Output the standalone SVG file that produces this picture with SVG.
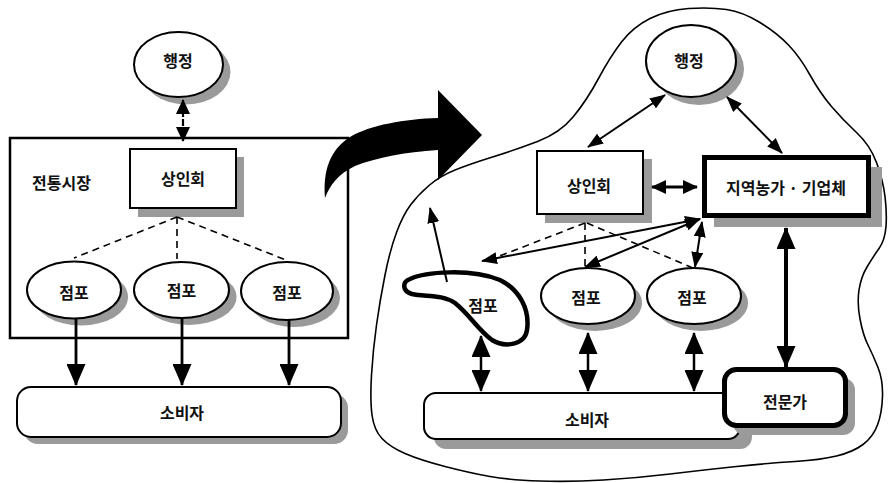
<svg xmlns="http://www.w3.org/2000/svg" width="890" height="483" viewBox="0 0 890 483">
<defs>
<style>
.t{font-family:"Noto Sans CJK KR","Noto Sans",sans-serif;font-weight:700;font-size:16px;fill:#111;text-anchor:middle;dominant-baseline:central}
.sh{fill:#9a9a9a;stroke:none}
.nd{fill:#fff;stroke:#000;stroke-width:2}
.thick{fill:#fff;stroke:#000;stroke-width:5}
.ln{stroke:#000;fill:none}
.dash{stroke:#000;stroke-width:1.6;stroke-dasharray:7 5;fill:none}
</style>
<marker id="hB" viewBox="0 0 22 19" refX="21" refY="9.5" markerWidth="22" markerHeight="19" markerUnits="userSpaceOnUse" orient="auto-start-reverse"><path d="M0,0 L22,9.5 L0,19 Z" fill="#000"/></marker>
<marker id="hM" viewBox="0 0 15 14" refX="14" refY="7" markerWidth="15" markerHeight="14" markerUnits="userSpaceOnUse" orient="auto-start-reverse"><path d="M0,0 L15,7 L0,14 Z" fill="#000"/></marker>
<marker id="hS" viewBox="0 0 16 12" refX="15" refY="6" markerWidth="16" markerHeight="12" markerUnits="userSpaceOnUse" orient="auto-start-reverse"><path d="M0,0 L16,6 L0,12 Z" fill="#000"/></marker>
</defs>
<rect width="890" height="483" fill="#fff"/>

<g id="region-new">
<path class="ln" stroke-width="1.6" d="M 455,170 Q 440,176 429,185.5 Q 418,195 410.5,205 Q 403,215 396.5,232.5 Q 390,250 385,275 Q 380,300 376.5,325 Q 373,350 371.5,375 Q 370,400 372,415 Q 374,430 382,438.5 Q 390,447 405,453.5 Q 420,460 445,466.5 Q 470,473 490,476.5 Q 510,480 540,481 Q 570,482 603.5,480 Q 637,478 670,474 Q 703,470 736.5,466.5 Q 770,463 795,461.5 Q 820,460 836.5,456 Q 853,452 863,444.5 Q 873,437 877.5,425 Q 882,413 882.5,396.5 Q 883,380 878,367.5 Q 873,355 868,345 Q 863,335 860,319 Q 857,303 859,290 Q 861,277 867,267 Q 873,257 879,248.5 Q 885,240 886,226.5 Q 887,213 885,196.5 Q 883,180 876.5,162.5 Q 870,145 856.5,132.5 Q 843,120 831.5,106.5 Q 820,93 810,75 Q 800,57 788.5,45 Q 777,33 760,22.5 Q 743,12 726.5,9.5 Q 710,7 688.5,8.5 Q 667,10 650,18.5 Q 633,27 621.5,42 Q 610,57 598.5,78.5 Q 587,100 573.5,116.5 Q 560,133 537.5,141.5 Q 515,150 492.5,157 Q 470,164 455,170 Z"/>
</g>

<g id="market-old">
<rect x="10" y="138" width="338" height="200" fill="none" stroke="#000" stroke-width="2.5"/>
<text class="t" x="32" y="182" style="text-anchor:start">전통시장</text>
</g>

<g id="gov-left">
<ellipse class="sh" cx="186" cy="72" rx="44.5" ry="32.5"/>
<ellipse class="nd" cx="178.5" cy="64.5" rx="44.5" ry="32.5"/>
<text class="t" x="178" y="60">행정</text>
</g>
<g id="assoc-left">
<rect class="sh" x="138" y="157" width="106" height="60"/>
<rect class="nd" x="130" y="149" width="106" height="59"/>
<text class="t" x="183" y="178">상인회</text>
</g>
<g id="store-left-1">
<ellipse class="sh" cx="81" cy="297" rx="47" ry="28.5"/>
<ellipse class="nd" cx="74" cy="290" rx="47" ry="28.5"/>
<text class="t" x="74" y="292">점포</text>
</g>
<g id="store-left-2">
<ellipse class="sh" cx="189" cy="297" rx="47.5" ry="28"/>
<ellipse class="nd" cx="181.5" cy="290" rx="47.5" ry="28"/>
<text class="t" x="181.5" y="290">점포</text>
</g>
<g id="store-left-3">
<ellipse class="sh" cx="294" cy="298" rx="46" ry="29"/>
<ellipse class="nd" cx="287" cy="291" rx="46" ry="29"/>
<text class="t" x="287" y="292">점포</text>
</g>
<g id="consumer-left">
<rect class="sh" x="24" y="394" width="324" height="50" rx="14"/>
<rect class="nd" x="17" y="387" width="324" height="50" rx="14" stroke-width="1.8"/>
<text class="t" x="182" y="412">소비자</text>
</g>

<g id="gov-right">
<ellipse class="sh" cx="699" cy="69" rx="45" ry="36"/>
<ellipse class="nd" cx="691" cy="61" rx="45" ry="36"/>
<text class="t" x="689" y="60">행정</text>
</g>
<g id="assoc-right">
<rect class="sh" x="545" y="159" width="107" height="64"/>
<rect class="nd" x="537" y="151" width="106" height="63" stroke-width="2.5"/>
<text class="t" x="589" y="185">상인회</text>
</g>
<g id="farm-right">
<rect class="sh" x="714" y="167" width="168" height="60"/>
<rect class="thick" x="704.5" y="157.5" width="164" height="58"/>
<text class="t" x="786" y="187">지역농가 · 기업체</text>
</g>
<g id="store-right-blob">
<path d="M 410,279 C 425,272 470,268 500,280 C 520,290 530,310 527,330 C 525,345 505,348 492,340 C 478,330 470,315 455,303 C 442,294 425,297 412,294 C 402,291 402,282 410,279 Z" fill="#fff" stroke="#000" stroke-width="4.5"/>
<text class="t" x="483" y="305">점포</text>
</g>
<g id="store-right-2">
<ellipse class="sh" cx="595" cy="303" rx="47" ry="28"/>
<ellipse class="nd" cx="588" cy="296" rx="47" ry="28"/>
<text class="t" x="586" y="297">점포</text>
</g>
<g id="store-right-3">
<ellipse class="sh" cx="701" cy="303" rx="47" ry="28"/>
<ellipse class="nd" cx="694" cy="296" rx="47" ry="28"/>
<text class="t" x="692" y="297">점포</text>
</g>
<g id="consumer-right">
<rect class="sh" x="434" y="402" width="318" height="47" rx="12"/>
<rect class="nd" x="424" y="393" width="316" height="46" rx="12" stroke-width="1.6"/>
<text class="t" x="587" y="419">소비자</text>
</g>
<g id="expert-right">
<rect class="sh" x="733" y="378" width="122" height="57" rx="12"/>
<rect class="thick" x="724.5" y="369.5" width="121" height="56" rx="12"/>
<text class="t" x="785" y="401">전문가</text>
</g>

<g id="connectors">
<!-- left -->
<line class="ln" x1="183" y1="100" x2="183" y2="141" stroke-width="2.2" stroke-dasharray="17 2 7 2 20" marker-start="url(#hM)" marker-end="url(#hM)"/>
<line class="dash" x1="177" y1="217" x2="74" y2="258"/>
<line class="dash" x1="177" y1="217" x2="177" y2="259"/>
<line class="dash" x1="177" y1="217" x2="286" y2="260"/>
<line class="ln" x1="76" y1="319" x2="76" y2="385" stroke-width="2.8" marker-end="url(#hB)"/>
<line class="ln" x1="182" y1="318" x2="182" y2="385" stroke-width="2.8" marker-end="url(#hB)"/>
<line class="ln" x1="289" y1="320" x2="289" y2="385" stroke-width="2.8" marker-end="url(#hB)"/>
<!-- transition arrow -->
<path d="M 325,198 C 323,170 330,150 350,137 C 370,125 405,119 438,118 L 438,90 L 482,135 L 438,180 L 438,150 C 405,152 375,158 355,166 C 338,174 330,185 325,198 Z" fill="#000"/>
<!-- right -->
<line class="ln" x1="588" y1="147" x2="665" y2="95" stroke-width="2" marker-start="url(#hS)" marker-end="url(#hS)"/>
<line class="ln" x1="727" y1="97" x2="782" y2="153" stroke-width="2" marker-start="url(#hS)" marker-end="url(#hS)"/>
<line class="ln" x1="652" y1="187" x2="697" y2="187" stroke-width="3" marker-start="url(#hM)" marker-end="url(#hM)"/>
<line class="dash" x1="585" y1="223" x2="497" y2="257"/>
<line class="dash" x1="585" y1="223" x2="585" y2="267"/>
<line class="dash" x1="587" y1="223" x2="693" y2="268"/>
<line class="ln" x1="482" y1="261" x2="700" y2="219" stroke-width="2" marker-start="url(#hS)" marker-end="url(#hS)"/>
<line class="ln" x1="585" y1="267" x2="700" y2="219" stroke-width="2" marker-start="url(#hS)" marker-end="url(#hS)"/>
<line class="ln" x1="695" y1="267" x2="702" y2="222" stroke-width="2" marker-start="url(#hS)" marker-end="url(#hS)"/>
<line class="ln" x1="447" y1="282" x2="430" y2="208" stroke-width="2" marker-end="url(#hS)"/>
<line class="ln" x1="481" y1="336" x2="481" y2="391" stroke-width="2.5" marker-start="url(#hB)" marker-end="url(#hB)"/>
<line class="ln" x1="588" y1="333" x2="588" y2="391" stroke-width="2.5" marker-start="url(#hB)" marker-end="url(#hB)"/>
<line class="ln" x1="694" y1="333" x2="694" y2="391" stroke-width="2.5" marker-start="url(#hB)" marker-end="url(#hB)"/>
<line class="ln" x1="786" y1="228" x2="786" y2="367" stroke-width="4" marker-start="url(#hB)" marker-end="url(#hB)"/>
</g>
</svg>
